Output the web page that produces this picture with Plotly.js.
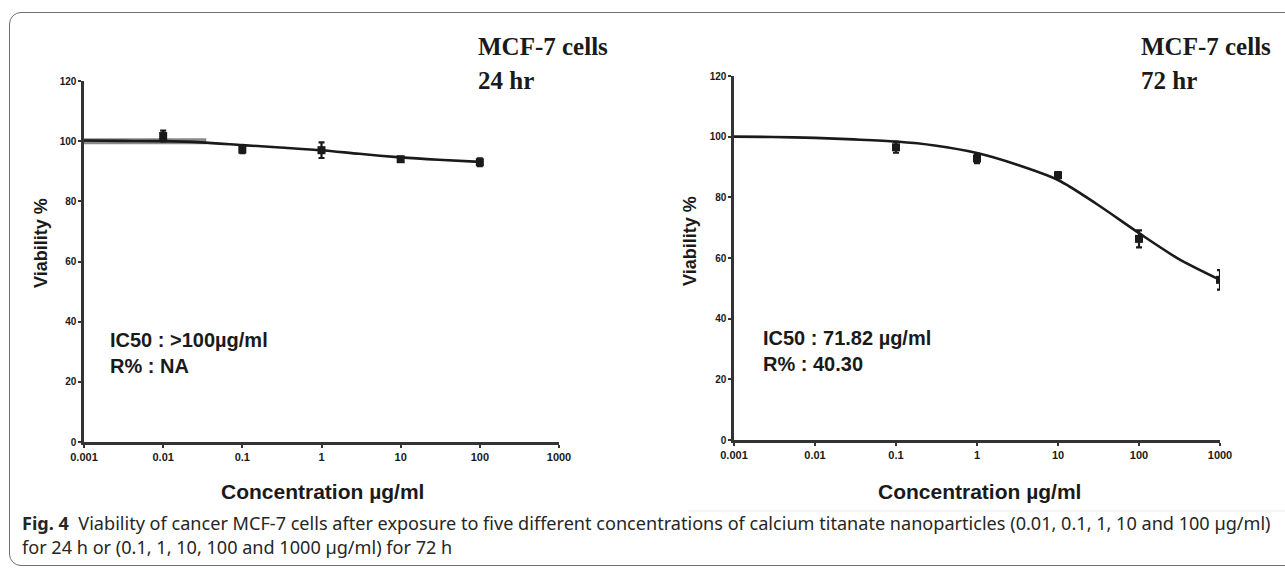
<!DOCTYPE html>
<html>
<head>
<meta charset="utf-8">
<script src="https://cdn.plot.ly/plotly-3.0.1.min.js"></script>
<style>
  html, body { margin: 0; padding: 0; background: #ffffff; }
  #wrap { position: relative; width: 1285px; height: 571px; overflow: hidden; }
  #frame { position: absolute; left: 9px; top: 12px; width: 1300px; height: 554px;
           border: 1.5px solid #6e6e6e; border-radius: 12px; box-sizing: border-box; }
  #plot { position: absolute; left: 0; top: 0; width: 1285px; height: 571px; }
</style>
</head>
<body>
<div id="wrap">
  <div id="frame"></div>
  <div id="plot"></div>
</div>
<script>
// ---------- Data ----------
const tickVals   = [0.001, 0.01, 0.1, 1, 10, 100, 1000];
const tickLabels = ["0.001", "0.01", "0.1", "1", "10", "100", "1000"];
const yTickVals  = [0, 20, 40, 60, 80, 100, 120];

// 24 hr
const conc24      = [0.01, 0.1, 1, 10, 100];
const viab24      = [101.7, 97.2, 97.0, 94.0, 93.0];
const err24       = [1.8, 1.2, 2.6, 0.8, 1.3];
const fitX24      = [0.001, 0.003, 0.01, 0.03, 0.1, 0.3, 1, 3, 10, 30, 100];
const fitY24      = [100.2, 100.1, 100.0, 99.6, 98.7, 97.9, 97.0, 95.8, 94.6, 93.8, 93.1];
const bandX24     = [0.001, 0.035];
const bandY24     = [100.0, 100.0];

// 72 hr
const conc72      = [0.1, 1, 10, 100, 1000];
const viab72      = [96.5, 92.8, 87.3, 66.3, 52.8];
const err72       = [1.8, 1.5, 1.0, 2.8, 3.2];
const fitX72      = [0.001, 0.003, 0.01, 0.03, 0.1, 0.3, 1, 3, 10, 30, 100, 300, 1000];
const fitY72      = [100.0, 99.9, 99.6, 99.1, 98.4, 97.1, 94.6, 90.9, 85.7, 77.8, 68.2, 59.9, 52.8];

const title24 = ["MCF-7 cells", "24 hr"];
const title72 = ["MCF-7 cells", "72 hr"];
const note24  = ["IC50 : >100µg/ml", "R% : NA"];
const note72  = ["IC50 : 71.82 µg/ml", "R% : 40.30"];
const xTitle  = "Concentration µg/ml";
const yTitle  = "Viability %";
const captionBold = "Fig. 4";
const captionL1 = "Viability of cancer MCF-7 cells after exposure to five different concentrations of calcium titanate nanoparticles (0.01, 0.1, 1, 10 and 100 µg/ml)";
const captionL2 = "for 24 h or (0.1, 1, 10, 100 and 1000 µg/ml) for 72 h";

// ---------- Layout helpers ----------
const W = 1285, H = 571;
const px = x => x / W;
const py = y => 1 - y / H;

const sans = "Liberation Sans, Arial, sans-serif";
const serif = "Liberation Serif, Times New Roman, serif";
const ink = "#1a1a1a";

function lineTrace(x, y, xa, ya, color, width) {
  return { x, y, xaxis: xa, yaxis: ya, type: "scatter", mode: "lines",
           line: { color, width, shape: "spline", smoothing: 0.8 },
           hoverinfo: "skip", showlegend: false };
}
function pointTrace(x, y, e, xa, ya) {
  return { x, y, xaxis: xa, yaxis: ya, type: "scatter", mode: "markers",
           marker: { color: ink, size: 8, symbol: "square" },
           error_y: { type: "data", array: e, visible: true, color: ink, thickness: 2.2, width: 3 },
           showlegend: false };
}

const traces = [
  lineTrace(bandX24, bandY24, "x", "y", "#8a8a8a", 6),
  lineTrace(fitX24, fitY24, "x", "y", ink, 2.6),
  pointTrace(conc24, viab24, err24, "x", "y"),
  lineTrace(fitX72, fitY72, "x2", "y2", ink, 2.6),
  pointTrace(conc72, viab72, err72, "x2", "y2")
];

function xAxis(domain, anchor) {
  return { type: "log", range: [-3, 3], domain, anchor,
           tickvals: tickVals, ticktext: tickLabels,
           showgrid: false, zeroline: false,
           showline: true, linecolor: "#333", linewidth: 2.6,
           ticks: "outside", ticklen: 3, tickwidth: 2, tickcolor: "#333",
           tickfont: { family: sans, size: 11, color: ink, weight: "bold" },
           fixedrange: true };
}
function yAxis(domain, anchor) {
  return { range: [0, 120], domain, anchor,
           tickvals: yTickVals,
           showgrid: false, zeroline: false,
           showline: true, linecolor: "#333", linewidth: 2.6,
           ticks: "outside", ticklen: 3, tickwidth: 2, tickcolor: "#333",
           tickfont: { family: sans, size: 10, color: ink, weight: "bold" },
           fixedrange: true };
}

function txt(x, y, text, opts) {
  return Object.assign({ xref: "paper", yref: "paper", x: px(x), y: py(y), text,
                         showarrow: false, xanchor: "left", yanchor: "middle" }, opts);
}

const titleFont = { family: serif, size: 25, color: ink, weight: "bold" };
const noteFont  = { family: sans, size: 20, color: ink, weight: "bold" };
const capFont   = { family: "Noto Sans, sans-serif", size: 18.1, color: "#262626" };

const annotations = [
  // panel titles
  txt(476, 46, title24[0], { font: titleFont }),
  txt(476, 81, title24[1], { font: titleFont }),
  txt(1139, 46, title72[0], { font: titleFont }),
  txt(1139, 81, title72[1], { font: titleFont }),
  // IC50 notes
  txt(108, 340, note24[0], { font: noteFont }),
  txt(108, 366, note24[1], { font: noteFont }),
  txt(761, 338, note72[0], { font: noteFont }),
  txt(761, 364, note72[1], { font: noteFont }),
  // axis titles
  txt(322, 491, xTitle, { xanchor: "center", font: { family: sans, size: 21, color: ink, weight: "bold" } }),
  txt(979, 491, xTitle, { xanchor: "center", font: { family: sans, size: 21, color: ink, weight: "bold" } }),
  txt(41, 243, yTitle, { xanchor: "center", textangle: -90, font: { family: sans, size: 18, color: ink, weight: "bold" } }),
  txt(690, 241, yTitle, { xanchor: "center", textangle: -90, font: { family: sans, size: 18, color: ink, weight: "bold" } }),
  // caption
  txt(20, 523, "<b>" + captionBold + "</b>  " + captionL1, { font: capFont }),
  txt(20, 547, captionL2, { font: capFont })
];

const layout = {
  width: W, height: H,
  margin: { l: 0, r: 0, t: 0, b: 0 },
  paper_bgcolor: "rgba(0,0,0,0)", plot_bgcolor: "rgba(0,0,0,0)",
  showlegend: false,
  xaxis:  xAxis([px(84), px(559)], "y"),
  yaxis:  yAxis([py(442), py(81)], "x"),
  xaxis2: xAxis([px(734), px(1220)], "y2"),
  yaxis2: yAxis([py(440), py(76)], "x2"),
  annotations,
  shapes: [
    { type: "line", xref: "paper", yref: "paper", x0: px(688), x1: px(1285), y0: py(511), y1: py(511),
      line: { color: "#ececec", width: 1 } }
  ]
};

Plotly.newPlot("plot", traces, layout, { staticPlot: true, displayModeBar: false });
</script>
</body>
</html>
